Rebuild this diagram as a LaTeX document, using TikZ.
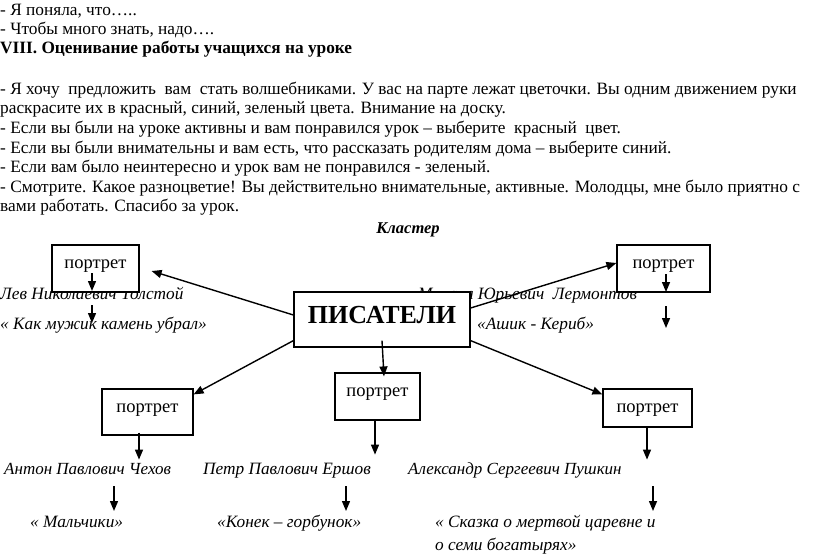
\documentclass[tikz,border=0pt]{standalone}
\usepackage{fontspec}
\setmainfont{Liberation Serif}
\usetikzlibrary{arrows.meta,calc}
\begin{document}
\begin{tikzpicture}[x=1pt,y=-1pt,
  txt/.style={anchor=base west,inner sep=0pt,font=\fontsize{17.3}{20}\selectfont},
  itx/.style={anchor=base west,inner sep=0pt,font=\fontsize{17.3}{20}\selectfont\itshape},
  pbox/.style={draw,line width=1.2pt,fill=white,inner sep=0pt,font=\fontsize{18.5}{20}\selectfont,text height=8pt,text depth=8pt},
  arr/.style={line width=1.4pt,-{Triangle[length=10pt,width=8pt]}}]
\useasboundingbox (0,0) rectangle (816,555);
% top text
\node[txt] (l1) at (0,15) {- Я поняла, что…..};
\node[txt] (l2) at (0,34) {- Чтобы много знать, надо….};
\node[txt,font=\fontsize{17.3}{20}\selectfont\bfseries] (l3) at (0,53) {VIII. Оценивание работы учащихся на уроке};
\node[txt] (p1) at (0,94) {- Я хочу\ \ предложить\ \ вам\ \ стать волшебниками. У вас на парте лежат цветочки. Вы одним движением руки};
\node[txt] (p2) at (0,113.5) {раскрасите их в красный, синий, зеленый цвета. Внимание на доску.};
\node[txt] (p3) at (0,133) {- Если вы были на уроке активны и вам понравился урок – выберите\ \ красный\ \ цвет.};
\node[txt] (p4) at (0,153) {- Если вы были внимательны и вам есть, что рассказать родителям дома – выберите синий.};
\node[txt] (p5) at (0,172.5) {- Если вам было неинтересно и урок вам не понравился - зеленый.};
\node[txt] (p6) at (0,192) {- Смотрите. Какое разноцветие! Вы действительно внимательные, активные. Молодцы, мне было приятно с};
\node[txt] (p7) at (0,211.5) {вами работать. Спасибо за урок.};
\node[anchor=base,inner sep=0pt,font=\fontsize{16.5}{19}\selectfont\bfseries\itshape] (cl) at (408,233) {Кластер};
% italic labels
\node[itx] (tol) at (0,299) {Лев Николаевич Толстой};
\node[itx] (tolw) at (0,329) {« Как мужик камень убрал»};
\node[itx] (ler) at (418,299) {Михаил Юрьевич\ \ Лермонтов};
\node[itx] (lerw) at (477,329) {«Ашик - Кериб»};
\node[itx,font=\fontsize{17}{20}\selectfont\itshape] (che) at (4,474) {Антон Павлович Чехов};
\node[itx] (chew) at (30,527) {« Мальчики»};
\node[itx] (ers) at (203,474) {Петр Павлович Ершов};
\node[itx] (ersw) at (217,527) {«Конек – горбунок»};
\node[itx,font=\fontsize{17}{20}\selectfont\itshape] (pus) at (408,474) {Александр Сергеевич Пушкин};
\node[itx] (pusw) at (435,527) {« Сказка о мертвой царевне и};
\node[itx] (pusw2) at (435,550) {о семи богатырях»};
% boxes
\node[pbox,minimum width=87pt,minimum height=47pt] (ptl) at (95.5,268.5) {портрет};
\node[pbox,minimum width=93pt,minimum height=47pt] (ptr) at (663.5,268.5) {портрет};
\node[pbox,minimum width=176pt,minimum height=55pt,font=\fontsize{26}{28}\selectfont\bfseries,text height=10pt,text depth=3pt] (wr) at (382,319.5) {ПИСАТЕЛИ};
\node[pbox,minimum width=85pt,minimum height=47pt] (pc) at (377.5,396.5) {портрет};
\node[pbox,minimum width=91pt,minimum height=46pt] (pbl) at (147.5,412) {портрет};
\node[pbox,minimum width=89pt,minimum height=38pt,text height=10pt,text depth=2pt] (pbr) at (647.5,408) {портрет};
% connectors from ПИСАТЕЛИ
\draw[arr] ([yshift=4.5pt]wr.west) -- ($(ptl.east)+(12,2.5)$);
\draw[arr] ([yshift=11.5pt]wr.east) -- ([yshift=5.5pt]ptr.west);
\draw[arr] ([yshift=7pt]wr.south west) -- ([yshift=-6pt]pbl.north east);
\draw[arr] ([yshift=7pt]wr.south) -- ([xshift=6.5pt,yshift=-4pt]pc.north);
\draw[arr] ([yshift=7pt]wr.south east) -- ([yshift=-6pt]pbr.north west);
% small arrows
\coordinate (a1s) at (92,273); \coordinate (a1e) at (92,291);
\coordinate (a2s) at (92,305); \coordinate (a2e) at (92,323);
\coordinate (a3s) at (666,274); \coordinate (a3e) at (666,292);
\coordinate (a4s) at (666,306); \coordinate (a4e) at (666,328);
\draw[arr] (a1s) -- (a1e);
\draw[arr] (a2s) -- (a2e);
\draw[arr] (a3s) -- (a3e);
\draw[arr] (a4s) -- (a4e);
\draw[arr] ([xshift=-2.5pt]pc.south) -- ++(0,34);
\draw[arr] ([xshift=-8.5pt,yshift=3pt]pbl.south) -- ++(0,27);
\draw[arr] ([xshift=-0.5pt]pbr.south) -- ++(0,32);
\coordinate (b1s) at (114,486); \coordinate (b1e) at (114,511);
\coordinate (b2s) at (346,486); \coordinate (b2e) at (346,511);
\coordinate (b3s) at (653,486); \coordinate (b3e) at (653,511);
\draw[arr] (b1s) -- (b1e);
\draw[arr] (b2s) -- (b2e);
\draw[arr] (b3s) -- (b3e);
\end{tikzpicture}
\end{document}
